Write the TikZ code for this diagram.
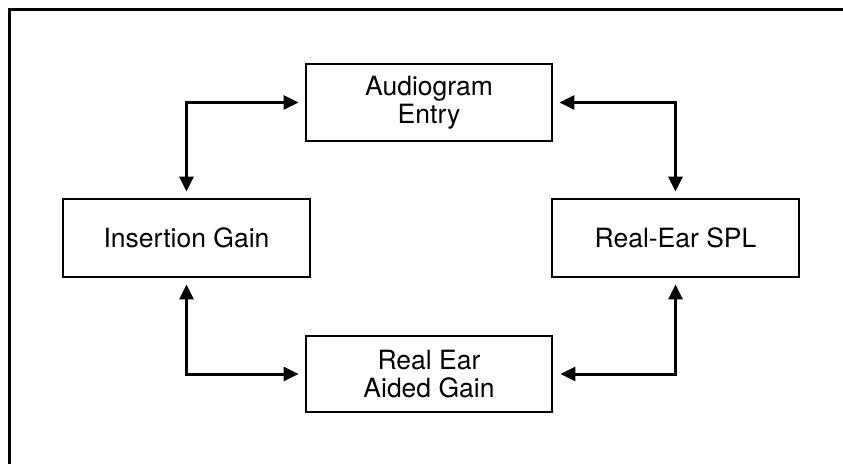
\documentclass[tikz,border=0pt]{standalone}
\usepackage{fontspec}
\setmainfont{TeX Gyre Heros}
\usetikzlibrary{arrows.meta}
\begin{document}
\begin{tikzpicture}[x=1pt,y=1pt,
  box/.style={draw=black, line width=2.8pt, minimum width=246pt, minimum height=77pt,
    inner sep=0pt, align=center, font=\fontsize{26.5}{28}\selectfont},
  link/.style={line width=3pt, {Triangle[length=15pt,width=14pt]}-{Triangle[length=15pt,width=14pt]}}
]
\useasboundingbox (0,0) rectangle (843,464);
\fill[white] (0,0) rectangle (843,464);
\draw[line width=3.2pt] (843,454.5) -- (9.5,454.5) -- (9.5,0);
\node[box] (A) at (429,361.5) {Audiogram\\Entry};
\node[box, minimum height=76pt] (R) at (429,90) {Real Ear\\Aided Gain};
\node[box, minimum width=247pt, minimum height=78pt] (I) at (186.5,226) {Insertion Gain};
\node[box, minimum width=247pt, minimum height=78pt] (S) at (675.5,226) {Real-Ear SPL};
\draw[link] ([xshift=-6pt]A.west) -| ([yshift=6pt]I.north);
\draw[link] ([xshift=6pt]A.east) -| ([yshift=6pt]S.north);
\draw[link] ([xshift=-6pt]R.west) -| ([yshift=-6pt]I.south);
\draw[link] ([xshift=7pt]R.east) -| ([yshift=-6pt]S.south);
\end{tikzpicture}
\end{document}
